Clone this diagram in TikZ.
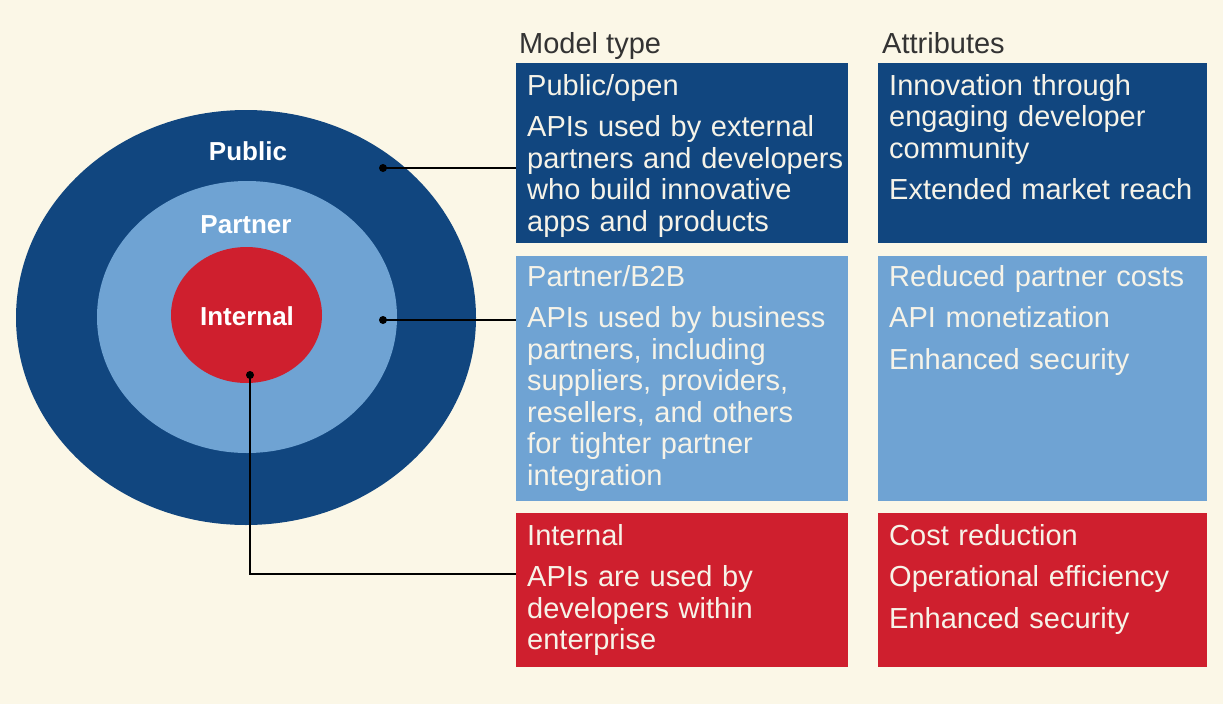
\documentclass[tikz,border=0pt]{standalone}
\usepackage{fontspec}
\setmainfont{Liberation Sans}
\usetikzlibrary{shapes.geometric}
\definecolor{bg}{HTML}{FBF7E7}
\definecolor{dblue}{HTML}{11467F}
\definecolor{lblue}{HTML}{6FA3D3}
\definecolor{ired}{HTML}{CF1F2E}
\definecolor{txt}{HTML}{F6F3E8}
\definecolor{hdr}{HTML}{333333}
\begin{document}
\begin{tikzpicture}[x=1pt,y=-1pt,
  box/.style={rectangle,draw=none,inner sep=0pt,anchor=north west},
  mbox/.style={box,minimum width=332pt},
  abox/.style={box,minimum width=329pt},
  btext/.style={anchor=base west,inner sep=0pt,text width=325pt,align=left,text=txt,
    font=\fontsize{29}{31.5}\selectfont},
  htext/.style={anchor=base west,inner sep=0pt,text=hdr,font=\fontsize{29}{31}\selectfont},
  ring/.style={ellipse,inner sep=0pt,draw=none},
  ringlabel/.style={text=white,font=\fontsize{26}{28}\selectfont\bfseries,inner sep=0pt},
  dot/.style={circle,fill=black,inner sep=0pt,minimum size=8pt},
  conn/.style={draw=black,line width=1.8pt}]
\fill[bg] (0,0) rectangle (1223,704);
\useasboundingbox (0,0) rectangle (1223,704);

% rings
\node[ring,fill=dblue,minimum width=460pt,minimum height=415pt] (outer) at (246,317.5) {};
\node[ring,fill=lblue,minimum width=300pt,minimum height=272pt] (middle) at (247,317) {};
\node[ring,fill=ired,minimum width=151pt,minimum height=136pt] (inner) at (246.5,315) {};
\node[ringlabel] (lpub) at (248,151) {Public};
\node[ringlabel] (lpart) at (246,225) {Partner};
\node[ringlabel] (lint) at (247,316) {Internal};

% headers
\node[htext] (hmodel) at (519,53) {Model type};
\node[htext] (hattr) at (882,53) {Attributes};

% boxes
\node[mbox,fill=dblue,minimum height=180pt] (pubm) at (516,63) {};
\node[abox,fill=dblue,minimum height=180pt] (puba) at (878,63) {};
\node[mbox,fill=lblue,minimum height=245pt] (partm) at (516,256) {};
\node[abox,fill=lblue,minimum height=245pt] (parta) at (878,256) {};
\node[mbox,fill=ired,minimum height=154pt] (intm) at (516,513) {};
\node[abox,fill=ired,minimum height=154pt] (inta) at (878,513) {};

% texts
\node[btext] (tpubm) at (527,95) {Public/open\\[10pt]APIs used by external\\partners and developers\\who build innovative\\apps and products};
\node[btext] (tpuba) at (889,95) {Innovation through\\engaging developer\\community\\[10pt]Extended market reach};
\node[btext] (tpartm) at (527,286) {Partner/B2B\\[10pt]APIs used by business\\partners, including\\suppliers, providers,\\resellers, and others\\for tighter partner\\integration};
\node[btext] (tparta) at (889,286) {Reduced partner costs\\[10pt]API monetization\\[10pt]Enhanced security};
\node[btext] (tintm) at (527,545) {Internal\\[10pt]APIs are used by\\developers within\\enterprise};
\node[btext] (tinta) at (889,545) {Cost reduction\\[10pt]Operational efficiency\\[10pt]Enhanced security};

% connectors
\node[dot] (dpub) at (383,168) {};
\node[dot] (dpart) at (383,320) {};
\node[dot] (dint) at (250,375) {};
\coordinate (cint) at (516,574);
\draw[conn] (dpub.center) -- (dpub -| pubm.west);
\draw[conn] (dpart.center) -- (dpart -| partm.west);
\draw[conn] (dint.center) |- (cint);
\end{tikzpicture}
\end{document}
